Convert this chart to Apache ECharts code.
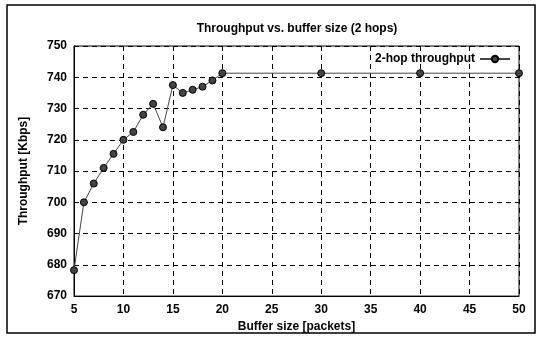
<!DOCTYPE html>
<html><head><meta charset="utf-8">
<script src="https://cdn.jsdelivr.net/npm/echarts@6/dist/echarts.min.js"></script>
<style>html,body{margin:0;padding:0;background:#fff}#c{width:542px;height:338px}</style>
</head><body><div id="c"></div>
<script>
const bufferSizes = [5,6,7,8,9,10,11,12,13,14,15,16,17,18,19,20,30,40,50];
const throughput = [678.3,700,706,711,715.5,720,722.5,728,731.5,724,737.5,735,736,737,739,741.3,741.3,741.3,741.3];
const seriesName = '2-hop throughput';
const titleText = 'Throughput vs. buffer size (2 hops)';
const xName = 'Buffer size [packets]';
const yName = 'Throughput [Kbps]';

const chart = echarts.init(document.getElementById('c'), null, {renderer:'canvas'});
const font = 'Liberation Sans, Arial, sans-serif';
const fs = 12;
chart.setOption({
  animation:false,
  backgroundColor:'#fff',
  title:{text:titleText,left:292,textAlign:'center',top:18,
    textStyle:{fontFamily:font,fontSize:12,fontWeight:'bold',color:'#000'}},
  graphic:[{type:'rect',shape:{x:7,y:5,width:528,height:328},style:{fill:'none',stroke:'#000',lineWidth:1.5},silent:true}],
  legend:{right:26,top:48,align:'right',itemWidth:30,itemHeight:8,itemGap:6,
    textStyle:{fontFamily:font,fontSize:12,fontWeight:'bold',color:'#000'},
    data:[seriesName]},
  grid:{left:74,right:23,top:46,bottom:41,show:true,borderColor:'#000',borderWidth:1},
  xAxis:{type:'value',min:5,max:50,interval:5,name:xName,nameLocation:'middle',nameGap:24,
    nameTextStyle:{fontFamily:font,fontSize:fs,fontWeight:'bold',color:'#000'},
    axisLine:{lineStyle:{color:'#000',width:1}},axisTick:{show:false},
    axisLabel:{fontFamily:font,fontSize:fs,fontWeight:'bold',color:'#000',margin:8},
    splitLine:{show:true,lineStyle:{color:'#000',type:[5,4],width:1}}},
  yAxis:{type:'value',min:670,max:750,interval:10,name:yName,nameLocation:'middle',nameGap:44,
    nameTextStyle:{fontFamily:font,fontSize:fs,fontWeight:'bold',color:'#000'},
    axisLine:{show:true,lineStyle:{color:'#000',width:1}},axisTick:{show:false},
    axisLabel:{fontFamily:font,fontSize:fs,fontWeight:'bold',color:'#000',margin:7},
    splitLine:{show:true,lineStyle:{color:'#000',type:[5,4],width:1}}},
  series:[{name:seriesName,type:'line',
    data:bufferSizes.map((x,i)=>[x,throughput[i]]),
    symbol:'circle',symbolSize:7,
    lineStyle:{color:'#444',width:1},
    itemStyle:{color:'#444',borderColor:'#000',borderWidth:1}}]
});
</script></body></html>
